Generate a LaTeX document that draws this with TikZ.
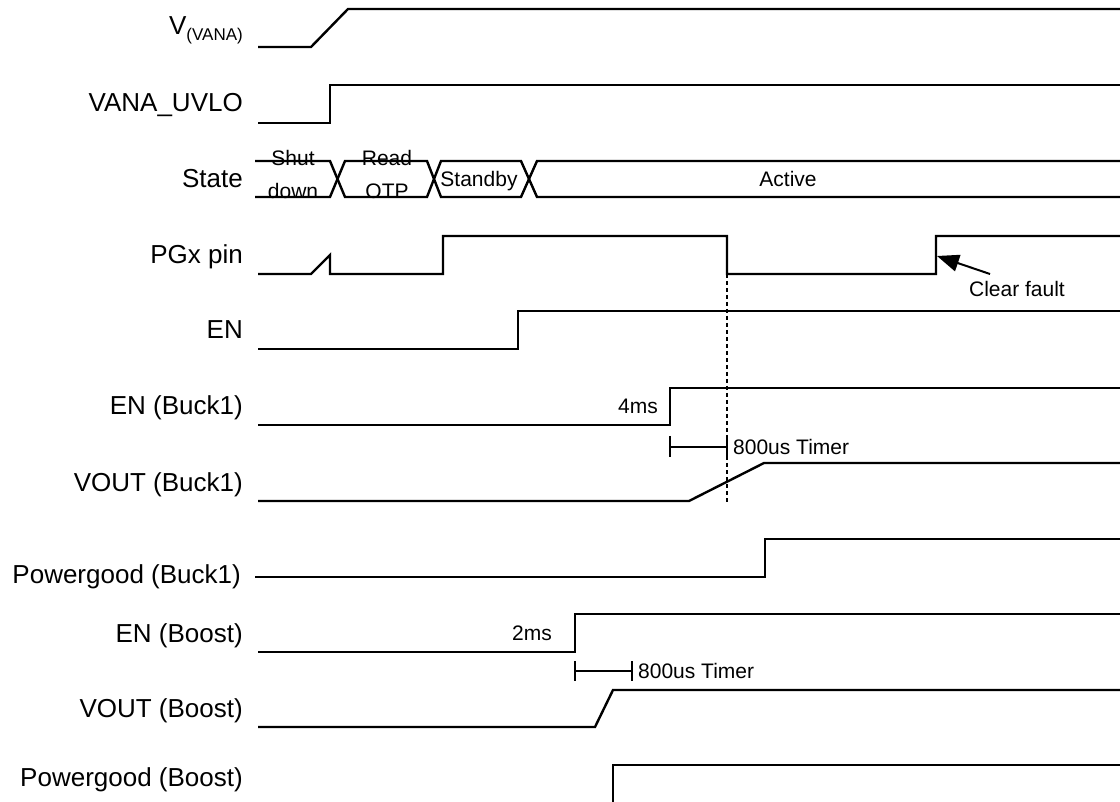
\documentclass[tikz,border=0pt]{standalone}
\usepackage{fontspec}
\setmainfont{Liberation Sans}
\usetikzlibrary{arrows.meta}
\begin{document}
\begin{tikzpicture}[x=1pt, y=-1pt,
    wave/.style={line width=2.4pt, line join=miter},
    sig/.style={anchor=base east, inner sep=0pt, font=\fontsize{26}{30}\selectfont},
    note/.style={inner sep=0pt, align=center, font=\fontsize{21}{33}\selectfont},
    timer/.style={line width=2pt}]
    \useasboundingbox (0,0) rectangle (1120,802);
    % signal names
    \node[sig] (vana) at (243,35) {V\raisebox{-6pt}{\fontsize{17}{17}\selectfont(VANA)}};
    \node[sig] (uvlo) at (243,112) {VANA\_UVLO};
    \node[sig] (state) at (243,188) {State};
    \node[sig] (pgx) at (243,264) {PGx pin};
    \node[sig] (en) at (243,339) {EN};
    \node[sig] (enbuck) at (243,415) {EN (Buck1)};
    \node[sig] (voutbuck) at (243,491) {VOUT (Buck1)};
    \node[sig] (pgbuck) at (241,583) {Powergood (Buck1)};
    \node[sig] (enboost) at (243,642) {EN (Boost)};
    \node[sig] (voutboost) at (243,717) {VOUT (Boost)};
    \node[sig] (pgboost) at (243,786) {Powergood (Boost)};
    % waveforms
    \draw[wave] (258,47) -- (311,47) -- (348,9) -- (1120,9);
    \draw[wave] (258,123) -- (330,123) -- (330,85) -- (1120,85);
    \draw[wave] (255,161) -- (330,161) -- (345,197) -- (427,197) -- (441,161) -- (521,161) -- (537,197) -- (1120,197);
    \draw[wave] (255,197) -- (330,197) -- (345,161) -- (427,161) -- (441,197) -- (521,197) -- (537,161) -- (1120,161);
    \draw[wave] (258,274) -- (311,274) -- (330,255) -- (330,274) -- (443,274) -- (443,236)
        -- (727,236) -- (727,274) -- (936,274) -- (936,236) -- (1120,236);
    \draw[wave] (258,349) -- (518,349) -- (518,311) -- (1120,311);
    \draw[wave] (258,425) -- (670,425) -- (670,388) -- (1120,388);
    \draw[wave] (258,501) -- (689,501) -- (764,463) -- (1120,463);
    \draw[wave] (255,577) -- (765,577) -- (765,539) -- (1120,539);
    \draw[wave] (258,652) -- (575,652) -- (575,614) -- (1120,614);
    \draw[wave] (258,727) -- (595,727) -- (613,690) -- (1120,690);
    \draw[wave] (613,803) -- (613,765) -- (1120,765);
    % state names
    \node[note, anchor=base] (shut) at (293,199) {Shut\\down};
    \node[note, anchor=base] (readotp) at (387,199) {Read\\OTP};
    \node[note, anchor=base] (standby) at (479,186.5) {Standby};
    \node[note, anchor=base] (active) at (788,186.5) {Active};
    % fault and timers
    \draw[line width=1.5pt, dash pattern=on 4pt off 3pt] (727,274) -- (727,502);
    \node[note, anchor=base east] (fourms) at (658,413.5) {4ms};
    \draw[timer] (670,436) -- (670,457) (670,447) -- (727,447) (727,436) -- (727,457);
    \node[note, anchor=base west] (timerbuck) at (733,454.5) {800us Timer};
    \node[note, anchor=base east] (twoms) at (552,640.5) {2ms};
    \draw[timer] (575,661) -- (575,681) (575,671) -- (632,671) (632,661) -- (632,681);
    \node[note, anchor=base west] (timerboost) at (638,678) {800us Timer};
    \node[note, anchor=base] (clearfault) at (1017,297) {Clear fault};
    \coordinate (faultedge) at (937,256);
    \coordinate (faulttail) at (990,274);
    \draw[line width=2pt, -{Triangle[length=22pt, width=17pt]}] (faulttail) -- (faultedge);
\end{tikzpicture}
\end{document}
